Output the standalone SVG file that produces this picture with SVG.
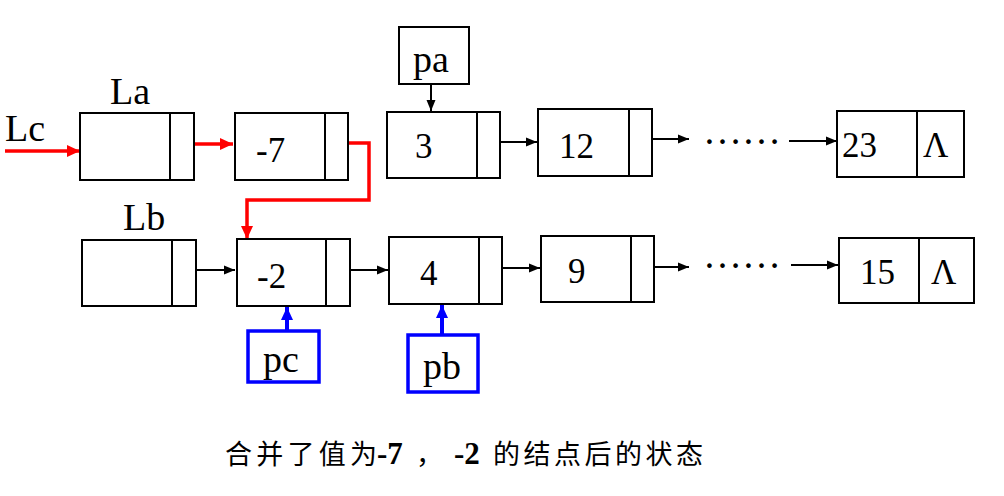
<svg xmlns="http://www.w3.org/2000/svg" width="1004" height="496" viewBox="0 0 1004 496">
<style>
.box{fill:#fff;stroke:#000;stroke-width:2}
.div{stroke:#000;stroke-width:2}
.serif{font-family:'Liberation Serif','Times New Roman',Times,'Tinos','Noto Serif','DejaVu Serif','FreeSerif',serif}
.t{font-size:35px;fill:#000}
.lbl{font-size:38px;fill:#000}
.blk{stroke:#000;stroke-width:2;fill:none}
.red{stroke:#f00;stroke-width:3.5;fill:none}
.blue{stroke:#00f;stroke-width:4;fill:none}
.bbox{fill:#fff;stroke:#00f;stroke-width:3.5}
.dots{font-size:39px;fill:#000}
.cap{font-family:'Noto Sans CJK SC',sans-serif;font-size:27px;fill:#000}
.capb{font-size:31px;font-weight:bold;fill:#000}
</style>
<defs>
<marker id="ab" markerUnits="userSpaceOnUse" markerWidth="12" markerHeight="10" refX="11" refY="5" orient="auto"><path d="M0,0.5 L11,5 L0,9.5 z" fill="#000"/></marker>
<marker id="ar" markerUnits="userSpaceOnUse" markerWidth="14" markerHeight="12" refX="13" refY="6" orient="auto"><path d="M0,0 L13,6 L0,12 z" fill="#f00"/></marker>
<marker id="abl" markerUnits="userSpaceOnUse" markerWidth="14" markerHeight="12" refX="13" refY="6" orient="auto"><path d="M0,0 L13,6 L0,12 z" fill="#00f"/></marker>
</defs>
<rect width="1004" height="496" fill="#fff"/>

<g id="connectors" class="serif">
<line class="red" x1="5" y1="151" x2="80" y2="151" marker-end="url(#ar)"/>
<line class="red" x1="180" y1="144" x2="233" y2="144" marker-end="url(#ar)"/>
<polyline class="red" points="338,143 369,143 369,200 247,200 247,239" marker-end="url(#ar)"/>
<line class="blk" x1="431" y1="79" x2="431" y2="111" marker-end="url(#ab)"/>
<line class="blk" x1="487" y1="142" x2="537" y2="142" marker-end="url(#ab)"/>
<line class="blk" x1="639" y1="139" x2="689" y2="139" marker-end="url(#ab)"/>
<line class="blk" x1="789" y1="141" x2="837" y2="141" marker-end="url(#ab)"/>
<line class="blk" x1="182" y1="270" x2="235" y2="270" marker-end="url(#ab)"/>
<line class="blk" x1="337" y1="270" x2="388" y2="270" marker-end="url(#ab)"/>
<line class="blk" x1="489" y1="268" x2="540" y2="268" marker-end="url(#ab)"/>
<line class="blk" x1="642" y1="267" x2="689" y2="267" marker-end="url(#ab)"/>
<line class="blk" x1="791" y1="265" x2="838" y2="265" marker-end="url(#ab)"/>
<line class="blue" x1="287" y1="343" x2="287" y2="307" marker-end="url(#abl)"/>
<line class="blue" x1="442" y1="336" x2="442" y2="305" marker-end="url(#abl)"/>
<text class="dots" x="703" y="144" textLength="78" lengthAdjust="spacingAndGlyphs">……</text>
<text class="dots" x="703" y="268" textLength="78" lengthAdjust="spacingAndGlyphs">……</text>
</g>

<g id="nodes" class="serif">
<g id="Lc"><text class="lbl" x="5" y="141">Lc</text></g>

<g id="La">
<text class="lbl" x="110" y="104">La</text>
<rect class="box" x="80" y="113" width="114" height="67"/>
<line class="div" x1="170" y1="113" x2="170" y2="180"/>
</g>
<g id="n-7">
<rect class="box" x="235" y="113" width="113" height="67"/>
<line class="div" x1="325" y1="113" x2="325" y2="180"/>
<text class="t" x="256" y="162">-7</text>
</g>
<g id="n3">
<rect class="box" x="387" y="112" width="113" height="66"/>
<line class="div" x1="477" y1="112" x2="477" y2="178"/>
<text class="t" x="415" y="158">3</text>
</g>
<g id="n12">
<rect class="box" x="538" y="109" width="114" height="67"/>
<line class="div" x1="629" y1="109" x2="629" y2="176"/>
<text class="t" x="559" y="158">12</text>
</g>
<g id="n23">
<rect class="box" x="837" y="111" width="127" height="66"/>
<line class="div" x1="917" y1="111" x2="917" y2="177"/>
<text class="t" x="842" y="157">23</text>
<text class="t" x="923" y="157">Λ</text>
</g>
<g id="pa">
<rect class="box" x="399" y="27" width="70" height="57"/>
<text class="lbl" x="413" y="72">pa</text>
</g>

<g id="Lb">
<text class="lbl" x="123" y="230">Lb</text>
<rect class="box" x="82" y="240" width="114" height="66"/>
<line class="div" x1="172" y1="240" x2="172" y2="306"/>
</g>
<g id="n-2">
<rect class="box" x="237" y="239" width="113" height="67"/>
<line class="div" x1="326" y1="239" x2="326" y2="306"/>
<text class="t" x="257" y="288">-2</text>
</g>
<g id="n4">
<rect class="box" x="389" y="237" width="113" height="67"/>
<line class="div" x1="479" y1="237" x2="479" y2="304"/>
<text class="t" x="420" y="285">4</text>
</g>
<g id="n9">
<rect class="box" x="541" y="236" width="113" height="66"/>
<line class="div" x1="631" y1="236" x2="631" y2="302"/>
<text class="t" x="568" y="283">9</text>
</g>
<g id="n15">
<rect class="box" x="839" y="238" width="135" height="65"/>
<line class="div" x1="919" y1="238" x2="919" y2="303"/>
<text class="t" x="860" y="284">15</text>
<text class="t" x="931" y="284">Λ</text>
</g>
<g id="pc">
<rect class="bbox" x="248" y="331" width="71" height="51"/>
<text class="lbl" x="263" y="372">pc</text>
</g>
<g id="pb">
<rect class="bbox" x="408" y="335" width="70" height="57"/>
<text class="lbl" x="423" y="379">pb</text>
</g>
</g>

<g id="caption">
<text class="cap" x="225" y="464" textLength="152" lengthAdjust="spacing">合并了值为</text>
<text class="capb serif" x="377" y="464">-7</text>
<text class="cap" x="416" y="464">，</text>
<text class="capb serif" x="454" y="464">-2</text>
<text class="cap" x="493" y="464" textLength="210" lengthAdjust="spacing">的结点后的状态</text>
</g>
</svg>
